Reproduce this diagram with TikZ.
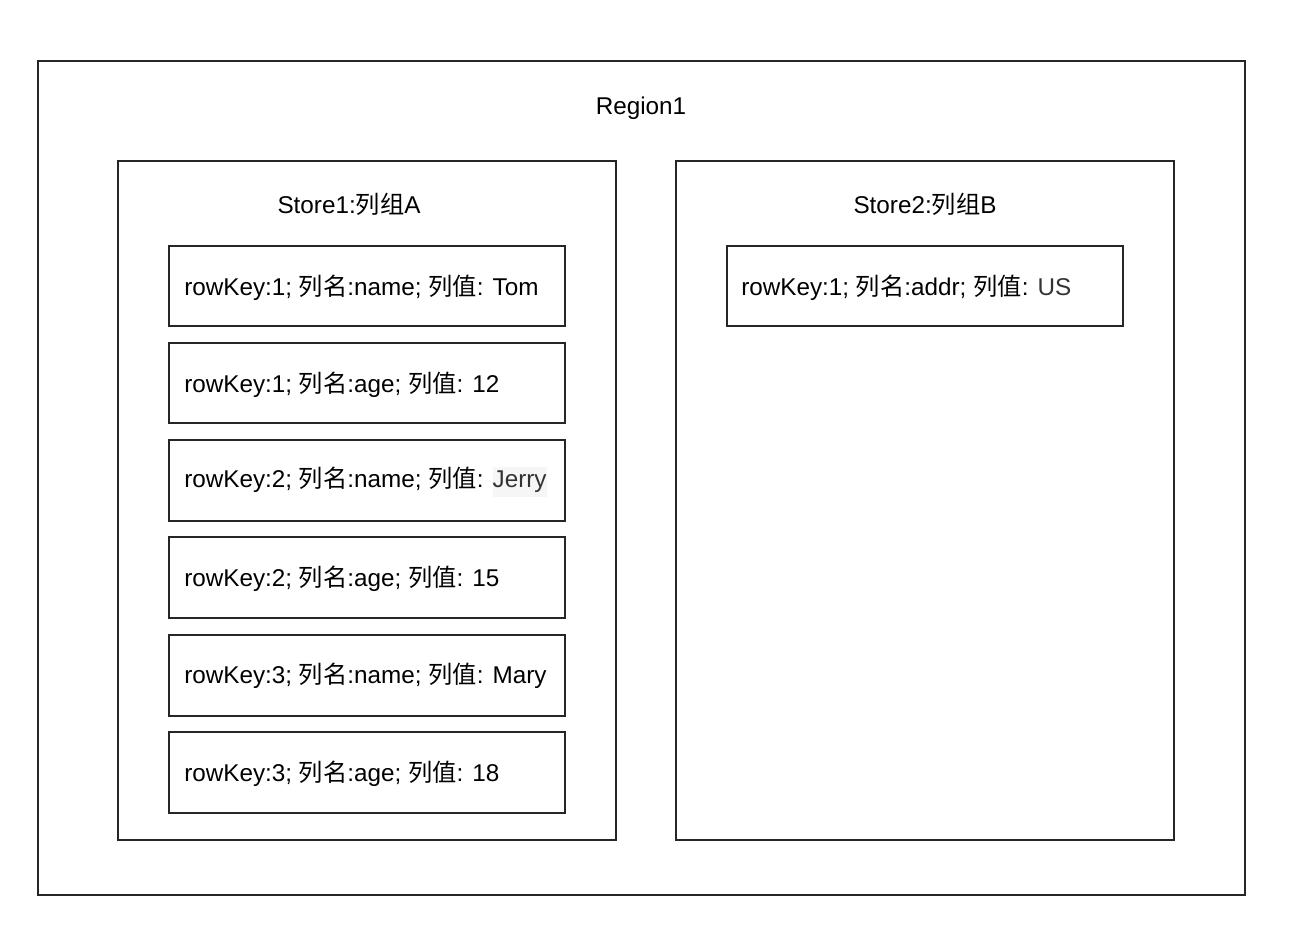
\documentclass[tikz,border=0pt]{standalone}
\usepackage{fontspec}
\setmainfont{Liberation Sans}
\newfontfamily\cjk{Noto Sans CJK SC}
\newcommand{\cj}[1]{{\cjk #1}}
\definecolor{dk}{HTML}{333333}
\definecolor{hl}{HTML}{F6F6F6}
\begin{document}
\begin{tikzpicture}[x=0.75pt,y=-0.75pt,
  frame/.style={draw=black!85,line width=1pt},
  lbl/.style={font=\fontsize{18.2}{21}\selectfont,inner sep=0pt},
  cell/.style={lbl,anchor=west}]
\useasboundingbox (0,0) rectangle (1304,932);
\fill[white] (0,0) rectangle (1304,932);
\draw[frame] (38,61) rectangle (1245,895);
\node[lbl] (region) at (641,108) {Region1};
\draw[frame] (118,161) rectangle (616,840);
\node[lbl] (s1) at (349,204) {Store1:\cj{列组}A};
\draw[frame] (676,161) rectangle (1174,840);
\node[lbl] (s2) at (925,204) {Store2:\cj{列组}B};
% store1 cells
\draw[frame] (169,246) rectangle (565,326);
\node[cell] (c1) at (184,288) {rowKey:1; \cj{列名}:name; \cj{列值}: Tom};
\draw[frame] (169,343) rectangle (565,423);
\node[cell] (c2) at (184,385) {rowKey:1; \cj{列名}:age; \cj{列值}: 12};
\draw[frame] (169,440) rectangle (565,521);
\node[cell] (c3) at (184,482) {rowKey:2; \cj{列名}:name; \cj{列值}: \colorbox{hl}{\kern-3pt\textcolor{dk}{Jerry}\kern-3pt}};
\draw[frame] (169,537) rectangle (565,618);
\node[cell] (c4) at (184,579) {rowKey:2; \cj{列名}:age; \cj{列值}: 15};
\draw[frame] (169,635) rectangle (565,716);
\node[cell] (c5) at (184,676) {rowKey:3; \cj{列名}:name; \cj{列值}: Mary};
\draw[frame] (169,732) rectangle (565,813);
\node[cell] (c6) at (184,774) {rowKey:3; \cj{列名}:age; \cj{列值}: 18};
% store2 cell
\draw[frame] (727,246) rectangle (1123,326);
\node[cell] (d1) at (741,288) {rowKey:1; \cj{列名}:addr; \cj{列值}: \textcolor{dk}{US}};
\end{tikzpicture}
\end{document}
